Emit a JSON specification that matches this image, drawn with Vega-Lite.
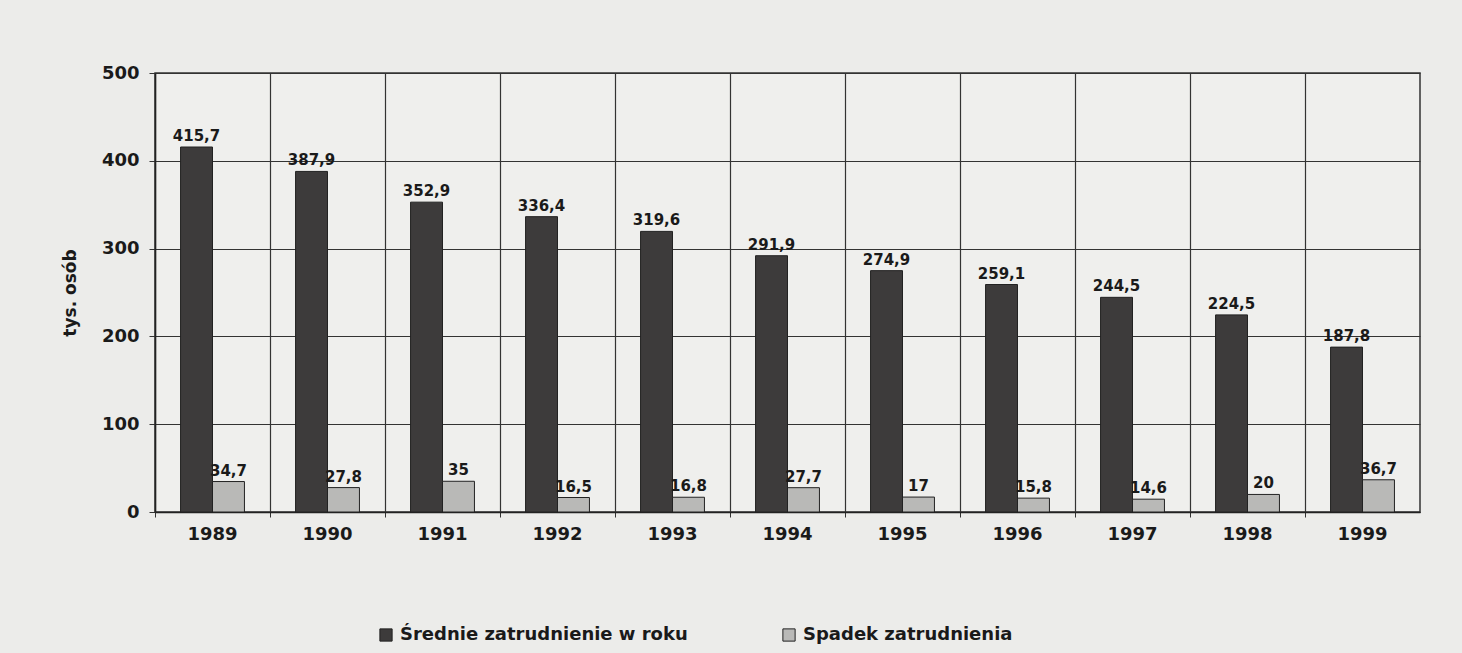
{
  "$schema": "https://vega.github.io/schema/vega-lite/v6.json",
  "autosize": "none",
  "width": 1265,
  "height": 439,
  "padding": {"left": 155, "top": 73, "right": 42, "bottom": 141},
  "background": "#ececea",
  "config": {
    "locale": {"number": {"decimal": ",", "thousands": " ", "grouping": [3], "currency": ["", " zł"]}},
    "font": "DejaVu Sans",
    "view": {"stroke": "#333333", "strokeWidth": 1.5, "fill": "#efefed"}
  },
  "data": {
    "values": [
      {"rok": "1989", "seria": "Średnie zatrudnienie w roku", "wartosc": 415.7},
      {"rok": "1989", "seria": "Spadek zatrudnienia", "wartosc": 34.7},
      {"rok": "1990", "seria": "Średnie zatrudnienie w roku", "wartosc": 387.9},
      {"rok": "1990", "seria": "Spadek zatrudnienia", "wartosc": 27.8},
      {"rok": "1991", "seria": "Średnie zatrudnienie w roku", "wartosc": 352.9},
      {"rok": "1991", "seria": "Spadek zatrudnienia", "wartosc": 35},
      {"rok": "1992", "seria": "Średnie zatrudnienie w roku", "wartosc": 336.4},
      {"rok": "1992", "seria": "Spadek zatrudnienia", "wartosc": 16.5},
      {"rok": "1993", "seria": "Średnie zatrudnienie w roku", "wartosc": 319.6},
      {"rok": "1993", "seria": "Spadek zatrudnienia", "wartosc": 16.8},
      {"rok": "1994", "seria": "Średnie zatrudnienie w roku", "wartosc": 291.9},
      {"rok": "1994", "seria": "Spadek zatrudnienia", "wartosc": 27.7},
      {"rok": "1995", "seria": "Średnie zatrudnienie w roku", "wartosc": 274.9},
      {"rok": "1995", "seria": "Spadek zatrudnienia", "wartosc": 17},
      {"rok": "1996", "seria": "Średnie zatrudnienie w roku", "wartosc": 259.1},
      {"rok": "1996", "seria": "Spadek zatrudnienia", "wartosc": 15.8},
      {"rok": "1997", "seria": "Średnie zatrudnienie w roku", "wartosc": 244.5},
      {"rok": "1997", "seria": "Spadek zatrudnienia", "wartosc": 14.6},
      {"rok": "1998", "seria": "Średnie zatrudnienie w roku", "wartosc": 224.5},
      {"rok": "1998", "seria": "Spadek zatrudnienia", "wartosc": 20},
      {"rok": "1999", "seria": "Średnie zatrudnienie w roku", "wartosc": 187.8},
      {"rok": "1999", "seria": "Spadek zatrudnienia", "wartosc": 36.7}
    ]
  },
  "encoding": {
    "x": {
      "field": "rok", "type": "nominal", "title": null,
      "scale": {"paddingInner": 0, "paddingOuter": 0},
      "axis": {
        "labelAngle": 0, "labelFontSize": 18, "labelFontWeight": "bold", "labelColor": "#1a1a1a",
        "labelPadding": 8, "bandPosition": 0, "grid": true, "gridColor": "#333333", "gridWidth": 1.2,
        "tickColor": "#333333", "tickSize": 5, "domainColor": "#222222", "domainWidth": 1.5
      }
    },
    "xOffset": {
      "field": "seria", "type": "nominal",
      "sort": ["Średnie zatrudnienie w roku", "Spadek zatrudnienia"],
      "scale": {"paddingInner": 0, "paddingOuter": 0.8}
    },
    "y": {
      "field": "wartosc", "type": "quantitative", "title": "tys. osób",
      "scale": {"domain": [0, 500]},
      "axis": {
        "values": [0, 100, 200, 300, 400, 500], "labelFontSize": 18, "labelFontWeight": "bold",
        "labelColor": "#1a1a1a", "labelPadding": 10, "tickSize": 6, "tickColor": "#333333",
        "domainColor": "#222222", "domainWidth": 1.5,
        "grid": true, "gridColor": "#333333", "gridWidth": 1.2,
        "titleFontSize": 17, "titleFontWeight": "bold", "titleColor": "#1a1a1a", "titlePadding": 22
      }
    }
  },
  "layer": [
    {
      "mark": {"type": "bar", "stroke": "#222222", "strokeWidth": 1},
      "encoding": {
        "color": {
          "field": "seria", "type": "nominal",
          "sort": ["Średnie zatrudnienie w roku", "Spadek zatrudnienia"],
          "scale": {"domain": ["Średnie zatrudnienie w roku", "Spadek zatrudnienia"], "range": ["#3d3b3b", "#b9b9b7"]},
          "legend": {
            "title": null, "orient": "none", "direction": "horizontal",
            "legendX": 222, "legendY": 553, "symbolType": "square", "symbolSize": 150,
            "symbolStrokeColor": "#222222", "symbolStrokeWidth": 1,
            "labelFontSize": 18, "labelFontWeight": "bold", "labelColor": "#1a1a1a",
            "labelLimit": 0, "columnPadding": 92, "labelOffset": 5
          }
        }
      }
    },
    {
      "mark": {"type": "text", "dy": -11, "fontSize": 15, "fontWeight": "bold", "color": "#1a1a1a"},
      "encoding": {
        "text": {"field": "wartosc", "type": "quantitative", "format": "~f"}
      }
    }
  ]
}
